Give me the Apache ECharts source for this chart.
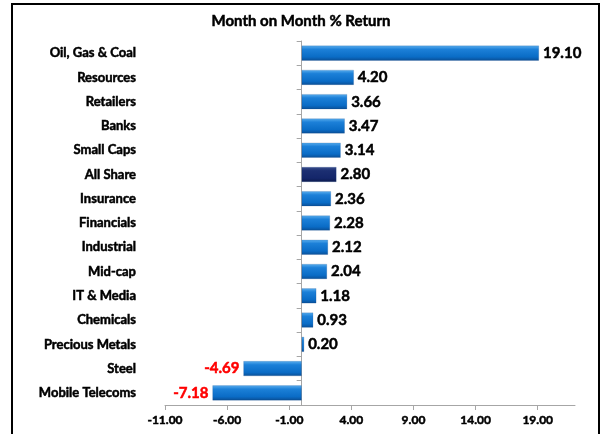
<!DOCTYPE html>
<html>
<head>
<meta charset="utf-8">
<script src="https://cdn.jsdelivr.net/npm/echarts@6/dist/echarts.min.js"></script>
<style>
  html, body { margin: 0; padding: 0; background: #fff; }
  #chart { width: 602px; height: 434px; }
</style>
</head>
<body>
<div id="chart"></div>
<script>
// sectors, top to bottom
var categories = ['Oil, Gas & Coal', 'Resources', 'Retailers', 'Banks', 'Small Caps', 'All Share',
  'Insurance', 'Financials', 'Industrial', 'Mid-cap', 'IT & Media', 'Chemicals',
  'Precious Metals', 'Steel', 'Mobile Telecoms']
var returns = [19.10, 4.20, 3.66, 3.47, 3.14, 2.80, 2.36, 2.28, 2.12, 2.04, 1.18, 0.93, 0.20, -4.69, -7.18]
var highlight = 'All Share'
var xTicks = { min: -11, max: 22, step: 5 }

var font = 'Lato, "Open Sans", sans-serif'
// Calibri bold is heavier than Lato bold, thicken a bit
function heavy(color, size) {
  return { fontFamily: font, fontSize: size, fontWeight: 'bold', color: color, textBorderColor: color, textBorderWidth: 0.5 }
}

var blueFill = new echarts.graphic.LinearGradient(0, 0, 0, 1, [
  { offset: 0, color: '#5AAEEE' },
  { offset: 0.25, color: '#1C80D8' },
  { offset: 0.75, color: '#0A6CC6' },
  { offset: 1, color: '#0A4F96' }
])
var navyFill = new echarts.graphic.LinearGradient(0, 0, 0, 1, [
  { offset: 0, color: '#3A4E8C' },
  { offset: 0.25, color: '#1C2F72' },
  { offset: 0.75, color: '#14266A' },
  { offset: 1, color: '#0C1A4C' }
])

var seriesData = returns.map(function (v, i) {
  var neg = v < 0
  var c = neg ? '#FF0000' : '#000'
  return {
    value: v,
    itemStyle: { color: categories[i] === highlight ? navyFill : blueFill },
    label: {
      position: neg ? 'left' : 'right',
      color: c,
      textBorderColor: c
    }
  }
})

var chart = echarts.init(document.getElementById('chart'))
chart.setOption({
  animation: false,
  title: {
    text: 'Month on Month % Return',
    left: 'center',
    top: 9,
    textStyle: heavy('#000', 15)
  },
  graphic: [{
    type: 'rect',
    shape: { x: 12, y: 4, width: 587, height: 440 },
    style: { fill: 'none', stroke: '#000', lineWidth: 2 },
    silent: true
  }],
  grid: { left: 165, right: 27, top: 41, bottom: 29 },
  xAxis: {
    type: 'value',
    min: xTicks.min,
    max: xTicks.max,
    interval: xTicks.step,
    splitLine: { show: false },
    axisLine: { show: true, lineStyle: { color: '#A6A6A6' } },
    axisTick: { show: true, length: 5, lineStyle: { color: '#A6A6A6' } },
    axisLabel: Object.assign({
      showMaxLabel: false,
      margin: 9,
      formatter: function (v) { return v.toFixed(2) }
    }, heavy('#000', 12))
  },
  yAxis: [
    {
      type: 'category',
      data: categories,
      inverse: true,
      position: 'left',
      axisLine: { show: false, onZero: false },
      axisTick: { show: false },
      axisLabel: Object.assign({ margin: 29 }, heavy('#000', 13))
    },
    {
      type: 'category',
      data: categories,
      inverse: true,
      axisLine: { show: true, onZero: true, lineStyle: { color: '#A6A6A6' } },
      axisTick: { show: true, inside: true, length: 5, lineStyle: { color: '#A6A6A6' } },
      axisLabel: { show: false }
    }
  ],
  series: [{
    type: 'bar',
    data: seriesData,
    barWidth: '62%',
    itemStyle: { borderColor: 'rgba(10,60,120,0.35)', borderWidth: 0.5 },
    label: Object.assign({
      show: true,
      distance: 4,
      formatter: function (p) { return p.value.toFixed(2) }
    }, heavy('#000', 15))
  }]
})
</script>
</body>
</html>
